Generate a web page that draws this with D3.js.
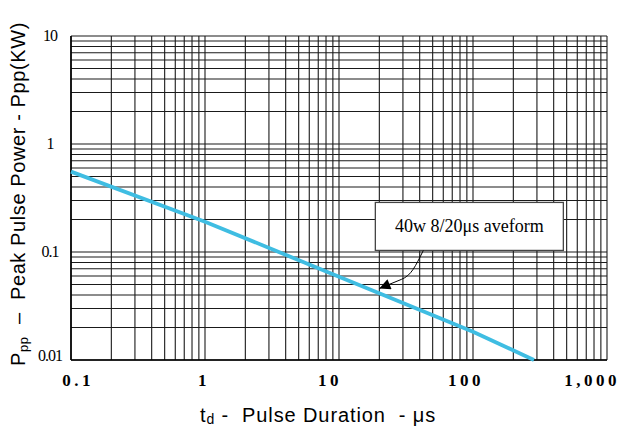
<!DOCTYPE html>
<html>
<head>
<meta charset="utf-8">
<script src="https://cdn.jsdelivr.net/npm/d3@7"></script>
<style>
    body { margin: 0; background: #fff; }
    svg { display: block; }
    text { white-space: pre; }
</style>
</head>
<body>
<svg id="chart" width="620" height="429"></svg>
<script>
'use strict';

// pulse duration (us) and peak pulse power (kW)
const duration = [0.1, 1, 10, 100, 285];
const power = [0.555, 0.191, 0.059, 0.0183, 0.01];

// axis ticks
const xTicks = [0.1, 1, 10, 100, 1000];
const xTickLabels = ['0.1', '1', '10', '100', '1,000'];
const yTicks = [10, 1, 0.1, 0.01];
const yTickLabels = ['10', '1', '0.1', '0.01'];

// annotation
const noteText = '40w 8/20\u03bcs aveform';
const noteAt = [20, 0.046];

const svg = d3.select('#chart');
const plotL = 71, plotR = 607, plotT = 36, plotB = 360;

const x = d3.scaleLog().domain([0.1, 1000]).range([plotL, plotR]);
const y = d3.scaleLog().domain([0.01, 10]).range([plotB, plotT]);

// log grid: 1..9 in every decade
function gridValues(lo, hi)
{
    const vals = [];
    for (let d = lo; d < hi * 0.999; d *= 10)
    {
        for (let k = 1; k < 10; k++)
            vals.push(d * k);
    }
    vals.push(hi);
    return vals;
}

const grid = svg.append('g').attr('class', 'grid');

grid.selectAll('line.v').data(gridValues(0.1, 1000)).enter().append('line')
    .attr('class', 'v')
    .attr('x1', (d) => x(d))
    .attr('x2', (d) => x(d))
    .attr('y1', plotT)
    .attr('y2', plotB)
    .attr('stroke', '#1a1a1a')
    .attr('stroke-width', 1.1);

grid.selectAll('line.h').data(gridValues(0.01, 10)).enter().append('line')
    .attr('class', 'h')
    .attr('x1', plotL)
    .attr('x2', plotR)
    .attr('y1', (d) => y(d))
    .attr('y2', (d) => y(d))
    .attr('stroke', '#1a1a1a')
    .attr('stroke-width', 1.1);

// frame (left and bottom axis lines a bit heavier)
svg.append('line')
    .attr('x1', plotL).attr('x2', plotL).attr('y1', plotT).attr('y2', plotB)
    .attr('stroke', '#000').attr('stroke-width', 1.6);
svg.append('line')
    .attr('x1', plotL).attr('x2', plotR).attr('y1', plotB).attr('y2', plotB)
    .attr('stroke', '#000').attr('stroke-width', 1.6);

// curve
const pts = duration.map((t, i) => [t, power[i]]);
svg.append('path')
    .datum(pts)
    .attr('d', d3.line().x((d) => x(d[0])).y((d) => y(d[1])))
    .attr('fill', 'none')
    .attr('stroke', '#3fbde2')
    .attr('stroke-width', 3.8);

// x tick labels
const xNudge = [7, -1, -9, -7, -15];
svg.selectAll('text.xt').data(xTicks).enter().append('text')
    .attr('class', 'xt')
    .attr('x', (d, i) => x(d) + xNudge[i])
    .attr('y', 386)
    .attr('text-anchor', 'middle')
    .attr('font-family', 'Liberation Serif, Times New Roman, serif')
    .attr('font-weight', 'bold')
    .attr('font-size', 17)
    .attr('letter-spacing', 3.5)
    .text((d, i) => xTickLabels[i]);

// y tick labels
svg.selectAll('text.yt').data(yTicks).enter().append('text')
    .attr('class', 'yt')
    .attr('x', 50)
    .attr('y', (d, i) => y(d) + (i === 3 ? 1 : 5))
    .attr('text-anchor', 'middle')
    .attr('font-family', 'Liberation Serif, Times New Roman, serif')
    .attr('font-size', 16)
    .attr('letter-spacing', -1)
    .text((d, i) => yTickLabels[i]);

// axis titles
const xTitle = svg.append('text')
    .attr('x', 318)
    .attr('y', 422)
    .attr('text-anchor', 'middle')
    .attr('font-family', 'Liberation Sans, Arial, sans-serif')
    .attr('font-size', 20)
    .attr('letter-spacing', 0.9);
xTitle.append('tspan').text('t');
xTitle.append('tspan').attr('font-size', 14).attr('dy', 2).text('d');
xTitle.append('tspan').attr('dy', -2).text(' -  Pulse Duration  - \u03bcs');

const yTitle = svg.append('text')
    .attr('transform', 'translate(25,366) rotate(-90)')
    .attr('text-anchor', 'start')
    .attr('font-family', 'Liberation Sans, Arial, sans-serif')
    .attr('font-size', 20)
    .attr('letter-spacing', 0.6);
yTitle.append('tspan').text('P');
yTitle.append('tspan').attr('font-size', 13).attr('dy', 3).text('pp');
yTitle.append('tspan').attr('dy', -3).text('  \u2013  Peak Pulse Power - Ppp(KW)');

// annotation box and arrow
svg.append('defs').append('marker')
    .attr('id', 'head')
    .attr('viewBox', '0 0 10 10')
    .attr('refX', 10).attr('refY', 5)
    .attr('markerWidth', 15).attr('markerHeight', 11)
    .attr('markerUnits', 'userSpaceOnUse')
    .attr('orient', 'auto')
    .append('path')
    .attr('d', 'M0,0 L10,5 L0,10 Z')
    .attr('fill', '#000');

const tipX = x(noteAt[0]), tipY = y(noteAt[1]);
const note = svg.append('g');

note.append('rect')
    .attr('x', tipX - 4).attr('y', tipY - 86)
    .attr('width', 188).attr('height', 48)
    .attr('fill', '#fff')
    .attr('stroke', '#444')
    .attr('stroke-width', 1.3);

note.append('text')
    .attr('x', tipX + 90).attr('y', tipY - 56)
    .attr('text-anchor', 'middle')
    .attr('font-family', 'Liberation Serif, Times New Roman, serif')
    .attr('font-size', 18)
    .text(noteText);

note.append('path')
    .attr('d', 'M' + (tipX + 44) + ',' + (tipY - 38)
        + ' C' + (tipX + 36) + ',' + (tipY - 22) + ' ' + (tipX + 32) + ',' + (tipY - 13)
        + ' ' + (tipX + 22) + ',' + (tipY - 9)
        + ' L' + tipX + ',' + tipY)
    .attr('fill', 'none')
    .attr('stroke', '#000')
    .attr('stroke-width', 1)
    .attr('marker-end', 'url(#head)');
</script>
</body>
</html>
